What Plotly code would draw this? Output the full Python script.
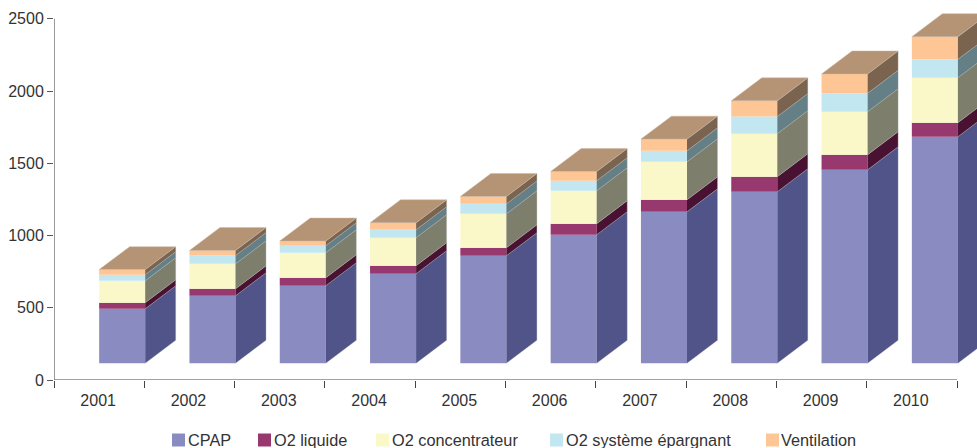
import plotly.graph_objects as go

years = ["2001", "2002", "2003", "2004", "2005", "2006", "2007", "2008", "2009", "2010"]
cpap = [493, 583, 653, 736, 860, 1006, 1164, 1303, 1455, 1684]
o2_liquide = [42, 48, 55, 55, 55, 76, 83, 104, 104, 97]
o2_concentrateur = [152, 173, 173, 194, 235, 228, 263, 298, 298, 311]
o2_epargnant = [42, 57, 48, 55, 69, 69, 76, 118, 127, 127]
ventilation = [35, 35, 33, 48, 51, 64, 81, 109, 134, 157]
y_ticks = [0, 500, 1000, 1500, 2000, 2500]

names = ["CPAP", "O2 liquide", "O2 concentrateur", "O2 système épargnant", "Ventilation"]
front_colors = ["#8A8CC1", "#97386E", "#FAF8C8", "#C2E7F0", "#FFC695"]
side_colors = ["#505488", "#4A1232", "#7D7F6C", "#647F85", "#7A6450"]
top_color = "#B59375"
legend_px = [(172, 188), (258, 274), (376, 392), (550, 566), (766, 781)]

FLOOR = 116
BAR_W = 0.51
DEPTH_X = 0.338
DEPTH_Y = 159
FONT = "Liberation Sans, Arial, sans-serif"
TEXT = "#333333"

PLOT_W, PLOT_H = 923, 380
idx = list(range(len(years)))
segments = [cpap, o2_liquide, o2_concentrateur, o2_epargnant, ventilation]

fig = go.Figure()
lows = [FLOOR] * len(years)
for s, seg in enumerate(segments):
    if s == 0:
        highs = list(seg)
    else:
        highs = [a + b for a, b in zip(lows, seg)]
    fig.add_trace(go.Bar(
        x=idx, y=[h - l for h, l in zip(highs, lows)], base=lows, name=names[s],
        width=BAR_W, offset=0, marker=dict(color=front_colors[s], line=dict(width=0)),
        showlegend=False, hoverinfo="skip"))
    xs, ys = [], []
    for i, l, h in zip(idx, lows, highs):
        xs += [i + BAR_W, i + BAR_W + DEPTH_X, i + BAR_W + DEPTH_X, i + BAR_W, None]
        ys += [l, l + DEPTH_Y, h + DEPTH_Y, h, None]
    fig.add_trace(go.Scatter(
        x=xs, y=ys, mode="lines", fill="toself", fillcolor=side_colors[s],
        line=dict(color="rgba(185,185,185,0.55)", width=0.6),
        showlegend=False, hoverinfo="skip"))
    lows = highs

xs, ys = [], []
for i, t in zip(idx, lows):
    xs += [i, i + BAR_W, i + BAR_W + DEPTH_X, i + DEPTH_X, i, None]
    ys += [t, t, t + DEPTH_Y, t + DEPTH_Y, t, None]
fig.add_trace(go.Scatter(
    x=xs, y=ys, mode="lines", fill="toself", fillcolor=top_color,
    line=dict(color="rgba(205,185,165,0.8)", width=0.6),
    showlegend=False, hoverinfo="skip"))

shapes = [
    dict(type="line", xref="x", yref="y", x0=-0.5, x1=len(years) - 0.5, y0=0, y1=0,
         line=dict(color="#444444", width=1)),
    dict(type="line", xref="x", yref="y", x0=-0.5, x1=-0.5, y0=0, y1=2500,
         line=dict(color="#777777", width=1.5)),
]
annotations = []
for name, color, (sx, tx) in zip(names, front_colors, legend_px):
    shapes.append(dict(type="rect", xref="paper", yref="paper",
                       x0=(sx - 54) / PLOT_W, x1=(sx + 13 - 54) / PLOT_W,
                       y0=(380 - 446.5) / PLOT_H, y1=(380 - 433.5) / PLOT_H,
                       fillcolor=color, line=dict(width=0)))
    annotations.append(dict(text=name, xref="paper", yref="paper", xanchor="left", yanchor="middle",
                            x=(tx - 54) / PLOT_W, y=(380 - 440) / PLOT_H, showarrow=False,
                            borderpad=0, xshift=-1, font=dict(family=FONT, size=16.3, color=TEXT)))

fig.update_layout(
    width=977, height=448, margin=dict(l=54, r=0, t=0, b=68),
    paper_bgcolor="white", plot_bgcolor="white", barmode="overlay",
    showlegend=False, shapes=shapes, annotations=annotations,
    font=dict(family=FONT, size=16, color=TEXT),
    xaxis=dict(range=[-0.5, -0.5 + PLOT_W / 90.3], showgrid=False, zeroline=False, showline=False,
               tickmode="array", tickvals=idx, ticktext=years, ticks="outside", ticklen=6,
               tickcolor="rgba(0,0,0,0)", ticklabelshift=-1,
               minor=dict(tick0=-0.5, dtick=1, ticks="outside", ticklen=7, tickcolor="#444444",
                          tickwidth=1, showgrid=False)),
    yaxis=dict(range=[0, 380 / 0.1445], showgrid=False, zeroline=False, showline=False,
               tickmode="array", tickvals=y_ticks, ticks="outside", ticklen=6,
               tickcolor="#555555", tickwidth=1),
)
fig.write_html("out.html", config={"displayModeBar": False},
               post_script="document.body.style.margin='0';document.body.style.overflow='hidden';")
